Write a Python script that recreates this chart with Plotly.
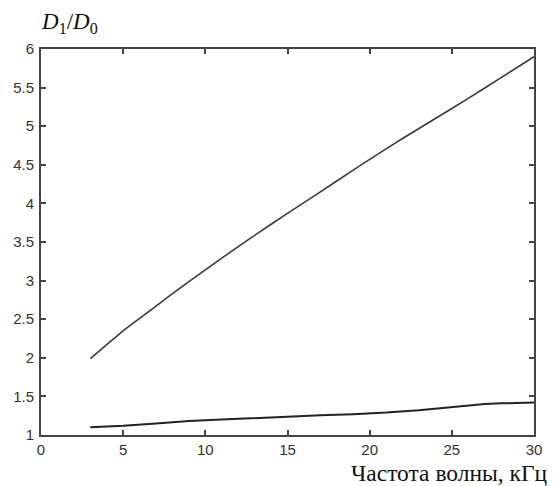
import plotly.graph_objects as go

freq_upper = [3, 4, 5, 6, 8, 10, 12, 14, 16, 18, 20, 22, 24, 26, 28, 30]
ratio_upper = [1.99, 2.17, 2.35, 2.51, 2.83, 3.14, 3.44, 3.73, 4.01, 4.29, 4.57, 4.84, 5.10, 5.36, 5.63, 5.90]

freq_lower = [3, 4, 5, 7, 9, 11, 13, 15, 17, 19, 21, 23, 25, 27, 28, 30]
ratio_lower = [1.10, 1.11, 1.12, 1.15, 1.18, 1.20, 1.22, 1.24, 1.255, 1.27, 1.29, 1.32, 1.36, 1.40, 1.41, 1.42]

x_ticks = [0, 5, 10, 15, 20, 25, 30]
y_ticks = [1, 1.5, 2, 2.5, 3, 3.5, 4, 4.5, 5, 5.5, 6]
y_tick_text = ["1", "1.5", "2", "2.5", "3", "3.5", "4", "4.5", "5", "5.5", "6"]

fig = go.Figure()
fig.add_trace(go.Scatter(x=freq_upper, y=ratio_upper, mode="lines",
                         line=dict(color="#3a3a3a", width=1.6, shape="spline", smoothing=0.6),
                         showlegend=False))
fig.add_trace(go.Scatter(x=freq_lower, y=ratio_lower, mode="lines",
                         line=dict(color="#222222", width=2), showlegend=False))

axis_common = dict(showline=True, linecolor="#444444", linewidth=2, mirror="ticks",
                   ticks="inside", ticklen=5, tickcolor="#444444", tickwidth=1.5,
                   showgrid=False, zeroline=False, automargin=False,
                   tickfont=dict(family="Liberation Sans, Arial", size=15, color="#333333"))

fig.update_xaxes(range=[0, 30], tickvals=x_ticks, ticklabelstandoff=0, **axis_common)
fig.update_yaxes(range=[1, 6], tickvals=y_ticks, ticktext=y_tick_text, ticklabelstandoff=2, **axis_common)

fig.add_annotation(text="<i>D</i><sub>1</sub>/<i>D</i><sub>0</sub>", xref="paper", yref="paper",
                   x=0, y=1.0, xanchor="left", yanchor="bottom", xshift=-2, yshift=10, showarrow=False,
                   font=dict(family="Liberation Serif, Times New Roman", size=23, color="#111111"))
fig.add_annotation(text="Частота волны, кГц", xref="paper", yref="paper",
                   x=1.0, y=0, xanchor="right", yanchor="top", xshift=16, yshift=-23, showarrow=False,
                   font=dict(family="Liberation Serif, Times New Roman", size=23.5, color="#111111"))

fig.update_layout(width=547, height=478, margin=dict(l=33, r=21, t=41, b=51, autoexpand=False),
                  paper_bgcolor="white", plot_bgcolor="white")

fig.write_html("out.html")
